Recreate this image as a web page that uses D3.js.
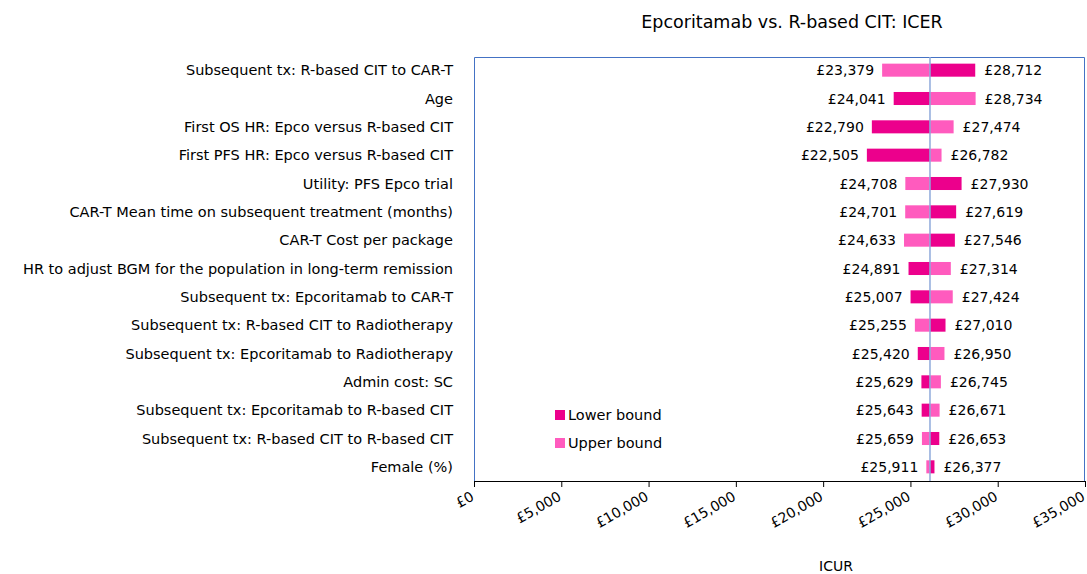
<!DOCTYPE html>
<html>
<head>
<meta charset="utf-8">
<script src="https://cdn.jsdelivr.net/npm/d3@7"></script>
<style>
  html, body { margin: 0; padding: 0; background: #fff; }
  svg { display: block; font-family: "DejaVu Sans", sans-serif; }
</style>
</head>
<body>
<svg id="chart" width="1087" height="574"></svg>
<script>
// One-way sensitivity analysis: ICER at the lower and upper bound of each parameter
const categories = [
  "Subsequent tx: R-based CIT to CAR-T",
  "Age",
  "First OS HR: Epco versus R-based CIT",
  "First PFS HR: Epco versus R-based CIT",
  "Utility: PFS Epco trial",
  "CAR-T Mean time on subsequent treatment (months)",
  "CAR-T Cost per package",
  "HR to adjust BGM for the population in long-term remission",
  "Subsequent tx: Epcoritamab to CAR-T",
  "Subsequent tx: R-based CIT to Radiotherapy",
  "Subsequent tx: Epcoritamab to Radiotherapy",
  "Admin cost: SC",
  "Subsequent tx: Epcoritamab to R-based CIT",
  "Subsequent tx: R-based CIT to R-based CIT",
  "Female (%)"
];
const lowerBound = [28712, 24041, 22790, 22505, 27930, 27619, 27546, 24891, 25007, 27010, 25420, 25629, 25643, 26653, 26377];
const upperBound = [23379, 28734, 27474, 26782, 24708, 24701, 24633, 27314, 27424, 25255, 26950, 26745, 26671, 25659, 25911];
const baseIcer = 26120;
const xTicks = [0, 5000, 10000, 15000, 20000, 25000, 30000, 35000];
const seriesNames = ["Lower bound", "Upper bound"];
const seriesColors = ["#EC008C", "#FF5BBE"];

const svg = d3.select("#chart");
const plot = { left: 474, right: 1085, top: 57, bottom: 481 };

const x = d3.scaleLinear().domain([0, 35000]).range([plot.left, plot.right]);
const y = d3.scaleBand().domain(categories).range([56, 481]).paddingInner(0.54).paddingOuter(0.27);

const fmt = v => "£" + d3.format(",")(v);

// Title
svg.append("text")
  .attr("x", 792).attr("y", 28)
  .attr("text-anchor", "middle")
  .attr("font-size", 17.5)
  .attr("fill", "#000")
  .text("Epcoritamab vs. R-based CIT: ICER");

// Plot frame (blue) on top, left and right
svg.append("path")
  .attr("d", `M${plot.left + 0.5},${plot.bottom} V${plot.top + 0.5} H${plot.right - 0.5} V${plot.bottom}`)
  .attr("fill", "none")
  .attr("stroke", "#4472C4")
  .attr("stroke-width", 1);

// Bars: each series drawn from the base case ICER to its value
const series = [lowerBound, upperBound];
series.forEach((vals, si) => {
  svg.append("g").selectAll("rect")
    .data(categories.map((c, i) => ({ c, v: vals[i] })))
    .join("rect")
    .attr("x", d => Math.min(x(d.v), x(baseIcer)))
    .attr("width", d => Math.abs(x(d.v) - x(baseIcer)))
    .attr("y", d => y(d.c))
    .attr("height", y.bandwidth())
    .attr("fill", seriesColors[si]);
});

// Base case line
svg.append("line")
  .attr("x1", x(baseIcer)).attr("x2", x(baseIcer))
  .attr("y1", plot.top).attr("y2", plot.bottom)
  .attr("stroke", "#8EA9DB")
  .attr("stroke-width", 1.5);

// Value labels on either end of each bar
const labelG = svg.append("g").attr("font-size", 14).attr("fill", "#000");
categories.forEach((c, i) => {
  const lo = Math.min(lowerBound[i], upperBound[i]);
  const hi = Math.max(lowerBound[i], upperBound[i]);
  const cy = y(c) + y.bandwidth() / 2;
  labelG.append("text")
    .attr("x", x(lo) - 8).attr("y", cy)
    .attr("dy", "0.36em")
    .attr("text-anchor", "end")
    .text(fmt(lo));
  labelG.append("text")
    .attr("x", x(hi) + 9).attr("y", cy)
    .attr("dy", "0.36em")
    .attr("text-anchor", "start")
    .text(fmt(hi));
});

// Category labels
svg.append("g").attr("font-size", 14.5).selectAll("text")
  .data(categories)
  .join("text")
  .attr("x", 453)
  .attr("y", d => y(d) + y.bandwidth() / 2)
  .attr("dy", "0.36em")
  .attr("text-anchor", "end")
  .attr("fill", "#000")
  .text(d => d);

// X axis
const xAxis = svg.append("g")
  .attr("transform", `translate(0,${plot.bottom})`)
  .call(d3.axisBottom(x).tickValues(xTicks).tickFormat(fmt).tickSize(6).tickSizeOuter(0));
xAxis.select(".domain").attr("stroke", "#000");
xAxis.selectAll(".tick line").attr("stroke", "#000");
xAxis.selectAll(".tick text")
  .attr("font-family", "DejaVu Sans, sans-serif")
  .attr("font-size", 14)
  .attr("fill", "#000")
  .attr("text-anchor", "end")
  .attr("transform", "translate(-2,14) rotate(-30)")
  .attr("dy", "0.35em")
  .attr("y", 0)
  .attr("x", 0);

// Axis title
svg.append("text")
  .attr("x", 836).attr("y", 571)
  .attr("text-anchor", "middle")
  .attr("font-size", 14)
  .attr("fill", "#000")
  .text("ICUR");

// Legend
const legend = svg.append("g");
seriesNames.forEach((name, i) => {
  const ly = 415 + i * 28;
  legend.append("rect")
    .attr("x", 555).attr("y", ly - 5)
    .attr("width", 10).attr("height", 10)
    .attr("fill", seriesColors[i]);
  legend.append("text")
    .attr("x", 568).attr("y", ly)
    .attr("dy", "0.36em")
    .attr("font-size", 14.5)
    .attr("fill", "#000")
    .text(name);
});
</script>
</body>
</html>
